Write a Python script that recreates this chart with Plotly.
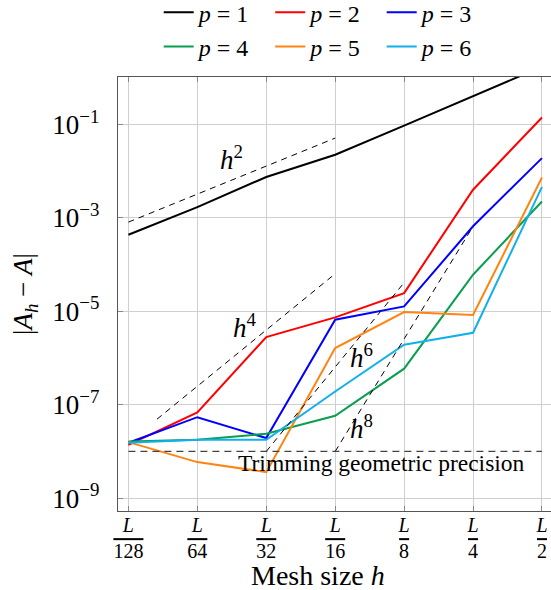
import math
import plotly.graph_objects as go

# ---------------- data ----------------
h_values = [1/128, 1/64, 1/32, 1/16, 1/8, 1/4, 1/2]
h_denoms = ["128", "64", "32", "16", "8", "4", "2"]

err_p1 = [4.35e-4, 1.70e-3, 7.5e-3, 2.24e-2, 9.4e-2, 4.0e-1, 1.72]
err_p2 = [1.38e-8, 6.8e-8, 2.8e-6, 7.4e-6, 2.45e-5, 4.0e-3, 1.41e-1]
err_p3 = [1.53e-8, 5.4e-8, 1.93e-8, 6.6e-6, 1.27e-5, 6.6e-4, 1.9e-2]
err_p4 = [1.63e-8, 1.77e-8, 2.38e-8, 5.8e-8, 5.9e-7, 6.05e-5, 2.24e-3]
err_p5 = [1.58e-8, 5.9e-9, 3.6e-9, 1.63e-6, 9.6e-6, 8.3e-6, 7.3e-3]
err_p6 = [1.53e-8, 1.77e-8, 1.77e-8, 1.92e-7, 1.92e-6, 3.47e-6, 4.6e-3]

series_names = ["p = 1", "p = 2", "p = 3", "p = 4", "p = 5", "p = 6"]
series_values = [err_p1, err_p2, err_p3, err_p4, err_p5, err_p6]
series_colors = ["#000000", "#ff0000", "#0000ff", "#0a9e50", "#ff8410", "#12b0ea"]

# reference slope segments (end points)
slope_h2_x = [1/128, 1/16]
slope_h2_y = [8.1e-4, 5.1e-2]
slope_h4_x = [1/96, 1/16]
slope_h4_y = [4.9e-8, 6.35e-5]
slope_h6_x = [1/32, 1/8]
slope_h6_y = [1e-8, 4.1e-5]
slope_h8_x = [1/16, 1/4]
slope_h8_y = [1e-8, 6.55e-4]
trim_x = [1/128, 1/2]
trim_y = [1e-8, 1e-8]

y_tickvals = [1e-9, 1e-7, 1e-5, 1e-3, 1e-1]
y_ticktext = ["10<sup>−9</sup>", "10<sup>−7</sup>", "10<sup>−5</sup>",
              "10<sup>−3</sup>", "10<sup>−1</sup>"]

FONT = '"Liberation Serif", "Times New Roman", serif'

fig = go.Figure()

for name, vals, col in zip(series_names, series_values, series_colors):
    p, _, n = name.split(" ")
    fig.add_trace(go.Scatter(
        x=h_values, y=vals, mode="lines", name=f"<i>{p}</i> = {n}",
        line=dict(color=col, width=2), showlegend=True))

for xs, ys in [(slope_h2_x, slope_h2_y), (slope_h4_x, slope_h4_y),
               (slope_h6_x, slope_h6_y), (slope_h8_x, slope_h8_y)]:
    fig.add_trace(go.Scatter(x=xs, y=ys, mode="lines", showlegend=False,
                             line=dict(color="#000000", width=1, dash="6px,5px")))

fig.add_trace(go.Scatter(x=trim_x, y=trim_y, mode="lines", showlegend=False,
                         line=dict(color="#444444", width=1.3, dash="7px,5px")))

ticktext_x = [f"<i>L</i><br><span style='text-decoration:overline'>{d}</span>"
              for d in h_denoms]

l2 = math.log10(2)
fig.update_xaxes(
    type="log", range=[-7.151 * l2, -0.869 * l2],
    tickvals=h_values, ticktext=ticktext_x,
    tickfont=dict(family=FONT, size=20, color="black"),
    ticklabelstandoff=-4, automargin=False,
    showgrid=True, gridcolor="#cfcfcf", gridwidth=1,
    showline=True, linecolor="#555555", linewidth=1.3, mirror="ticks",
    ticks="inside", ticklen=5, tickcolor="#888888", zeroline=False,
)
fig.update_yaxes(
    type="log", range=[-9.276, 0.015],
    tickvals=y_tickvals, ticktext=y_ticktext,
    tickfont=dict(family=FONT, size=27, color="black"),
    ticklabelstandoff=12, automargin=False,
    showgrid=True, gridcolor="#cfcfcf", gridwidth=1,
    showline=True, linecolor="#555555", linewidth=1.3, mirror=False,
    ticks="inside", ticklen=5, tickcolor="#888888", zeroline=False,
)

ann_font = dict(family=FONT, size=27, color="black")
annotations = [
    dict(x=-5.505 * l2, y=-1.713, text="<i>h</i><sup>2</sup>"),
    dict(x=-5.312 * l2, y=-5.326, text="<i>h</i><sup>4</sup>"),
    dict(x=-3.618 * l2, y=-5.968, text="<i>h</i><sup>6</sup>"),
    dict(x=-3.618 * l2, y=-7.467, text="<i>h</i><sup>8</sup>"),
]
for a in annotations:
    fig.add_annotation(xref="x", yref="y", showarrow=False, font=ann_font,
                       xanchor="center", yanchor="middle", **a)
fig.add_annotation(xref="x", yref="y", x=-3.328 * l2, y=-8.25,
                   text="Trimming geometric precision", showarrow=False,
                   font=dict(family=FONT, size=23.5, color="black"),
                   xanchor="center", yanchor="middle")

# axis titles
fig.add_annotation(xref="paper", yref="paper", x=(318 - 118) / 433, y=-64 / 434,
                   text="Mesh size <i>h</i>", showarrow=False,
                   font=dict(family=FONT, size=28, color="black"),
                   xanchor="center", yanchor="middle")
fig.add_annotation(xref="paper", yref="paper", x=(25 - 118) / 433, y=0.5,
                   text="|<i>A</i><sub><i>h</i></sub> − <i>A</i>|", showarrow=False,
                   textangle=-90,
                   font=dict(family=FONT, size=27, color="black"),
                   xanchor="center", yanchor="middle")

fig.update_layout(
    width=551, height=590,
    margin=dict(l=118, r=0, t=77, b=79, autoexpand=False),
    plot_bgcolor="white", paper_bgcolor="white",
    font=dict(family=FONT, color="black"),
    legend=dict(orientation="h", x=0.094, xanchor="left", y=1.2, yanchor="top",
                entrywidth=66.5, font=dict(family=FONT, size=24, color="black"),
                bgcolor="rgba(0,0,0,0)", tracegroupgap=0),
)

fig.write_html("out.html", config={"displayModeBar": False},
               post_script="document.body.style.margin='0px';document.body.style.overflow='hidden';")
